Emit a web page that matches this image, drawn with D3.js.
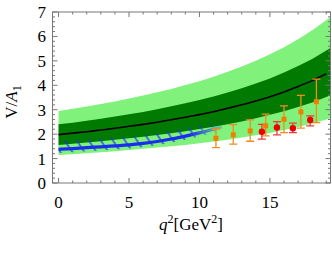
<!DOCTYPE html>
<html><head><meta charset="utf-8">
<script src="https://cdn.jsdelivr.net/npm/d3@7"></script>
<style>body{margin:0;background:#fff}svg{display:block}text{font-family:"Liberation Serif","DejaVu Serif",serif}</style>
</head><body><svg id="c" width="332" height="254"></svg>
<script>
// ---- data ----
const bandQ2   = [0,1,2,3,4,5,6,7,8,9,10,11,12,13,14,15,16,17,18,19,19.3];
const lightHi  = [2.95,3.04,3.13,3.23,3.34,3.46,3.58,3.71,3.85,4.01,4.17,4.35,4.55,4.77,5.00,5.27,5.56,5.88,6.25,6.66,6.80];
const darkHi   = [2.40,2.47,2.55,2.63,2.72,2.81,2.91,3.02,3.14,3.26,3.40,3.54,3.70,3.88,4.07,4.28,4.52,4.79,5.08,5.42,5.53];
const darkLo   = [1.56,1.61,1.66,1.71,1.77,1.83,1.89,1.96,2.04,2.12,2.21,2.30,2.41,2.52,2.65,2.79,2.94,3.11,3.30,3.52,3.59];
const lightLo  = [1.15,1.18,1.22,1.26,1.30,1.35,1.40,1.45,1.50,1.56,1.63,1.70,1.77,1.86,1.95,2.05,2.17,2.29,2.44,2.60,2.65];
const centerQ2 = [0,1,2,3,4,5,6,7,8,9,10,11,12,13,14,15,16,17,18,19];
const center   = [1.98,2.04,2.10,2.17,2.24,2.32,2.40,2.49,2.59,2.69,2.80,2.92,3.06,3.20,3.36,3.53,3.73,3.95,4.19,4.47];
const blueQ2   = [0,1,2,3,4,5,6,7,8,9,10,11,11.6];
const blue     = [1.38,1.41,1.45,1.48,1.52,1.56,1.62,1.70,1.80,1.92,2.05,2.20,2.29];
const blueHi   = [1.71,1.74,1.78,1.81,1.85,1.89,1.95,2.03,2.13,2.25,2.38,2.53,2.62];
const blueLo   = [1.23,1.26,1.30,1.33,1.37,1.41,1.47,1.55,1.65,1.77,1.90,2.05,2.14];
const orangeQ2 = [11.17,12.4,13.6,14.7,16.0,17.2,18.3];
const orangeV  = [1.83,1.97,2.13,2.34,2.61,2.91,3.33];
const orangeHi = [2.21,2.39,2.58,2.82,3.16,3.59,4.25];
const orangeLo = [1.45,1.59,1.71,1.93,2.06,2.25,2.47];
const redQ2    = [14.43,15.5,16.63,17.86];
const redV     = [2.10,2.27,2.24,2.58];
const redHi    = [2.40,2.51,2.45,2.75];
const redLo    = [1.80,1.97,2.06,2.34];
const xTicks   = [0,5,10,15];
const yTicks   = [0,1,2,3,4,5,6,7];

// ---- layout ----
const svg = d3.select("#c");
const L=52.5, R=330.5, T=12, B=183;
const x = d3.scaleLinear().domain([-0.43,19.3]).range([L,R]);
const y = d3.scaleLinear().domain([0,7]).range([B,T]);

const defs = svg.append("defs");
defs.append("clipPath").attr("id","plot").append("rect").attr("x",L).attr("y",T).attr("width",R-L).attr("height",B-T);
const pat = defs.append("pattern").attr("id","hatch").attr("patternUnits","userSpaceOnUse")
  .attr("width",10).attr("height",10).attr("patternTransform","rotate(-34)");
pat.append("line").attr("x1",5).attr("y1",0).attr("x2",5).attr("y2",10).attr("stroke","#2233ee").attr("stroke-width",1.3);
const grad = defs.append("linearGradient").attr("id","fade").attr("gradientUnits","userSpaceOnUse")
  .attr("x1",x(9.3)).attr("x2",x(11.7)).attr("y1",0).attr("y2",0);
grad.append("stop").attr("offset",0).attr("stop-color","#fff").attr("stop-opacity",1);
grad.append("stop").attr("offset",1).attr("stop-color","#fff").attr("stop-opacity",0.15);
defs.append("mask").attr("id","fm").append("rect").attr("x",0).attr("y",0).attr("width",332).attr("height",254).attr("fill","url(#fade)");

const g = svg.append("g").attr("clip-path","url(#plot)");
const area = (hi,lo,qs)=>d3.area().x((d,i)=>x(qs[i])).y0((d,i)=>y(lo[i])).y1((d,i)=>y(hi[i]))(qs);
g.append("path").attr("d",area(lightHi,lightLo,bandQ2)).attr("fill","#80f27c");
g.append("path").attr("d",area(darkHi,darkLo,bandQ2)).attr("fill","#007a00");
g.append("path").attr("d",d3.line().x((d,i)=>x(centerQ2[i])).y((d,i)=>y(center[i])).curve(d3.curveMonotoneX)(centerQ2))
  .attr("fill","none").attr("stroke","#000").attr("stroke-width",1.6);

const bg = g.append("g").attr("mask","url(#fm)");
bg.append("path").attr("d",area(blueHi,blueLo,blueQ2)).attr("fill","url(#hatch)");
bg.append("path").attr("d",d3.line().x((d,i)=>x(blueQ2[i])).y((d,i)=>y(blue[i])).curve(d3.curveMonotoneX)(blueQ2))
  .attr("fill","none").attr("stroke","#1a2cf0").attr("stroke-width",3.2);

// error bars
function errs(qs,v,hi,lo,col,cap){
  const eg = g.append("g").attr("stroke",col).attr("stroke-width",1.3);
  qs.forEach((q,i)=>{
    eg.append("line").attr("x1",x(q)).attr("x2",x(q)).attr("y1",y(hi[i])).attr("y2",y(lo[i]));
    eg.append("line").attr("x1",x(q)-cap).attr("x2",x(q)+cap).attr("y1",y(hi[i])).attr("y2",y(hi[i]));
    eg.append("line").attr("x1",x(q)-cap).attr("x2",x(q)+cap).attr("y1",y(lo[i])).attr("y2",y(lo[i]));
  });
}
errs(orangeQ2,orangeV,orangeHi,orangeLo,"#f28c1e",4);
errs(redQ2,redV,redHi,redLo,"#f03a3a",4);
g.selectAll(".sq").data(orangeQ2).enter().append("rect")
  .attr("x",d=>x(d)-2.5).attr("y",(d,i)=>y(orangeV[i])-2.5).attr("width",5).attr("height",5).attr("fill","#f07f00");
g.selectAll(".ci").data(redQ2).enter().append("circle")
  .attr("cx",d=>x(d)).attr("cy",(d,i)=>y(redV[i])).attr("r",3.2).attr("fill","#ee0000");

// frame and ticks
const ax = svg.append("g").attr("stroke","#777").attr("stroke-width",1).attr("fill","none");
ax.append("rect").attr("x",L).attr("y",T).attr("width",R-L).attr("height",B-T);
const xMinor = d3.range(0,20,1), yMinor = d3.range(0,7.01,0.2);
xMinor.forEach(v=>{
  const len = xTicks.includes(v)?5:2.5;
  ax.append("line").attr("x1",x(v)).attr("x2",x(v)).attr("y1",B).attr("y2",B-len);
  ax.append("line").attr("x1",x(v)).attr("x2",x(v)).attr("y1",T).attr("y2",T+len);
});
yMinor.forEach(v=>{
  const maj = Math.abs(v-Math.round(v))<1e-6;
  const len = maj?5:2.5;
  ax.append("line").attr("x1",L).attr("x2",L+len).attr("y1",y(v)).attr("y2",y(v));
  ax.append("line").attr("x1",R).attr("x2",R-len).attr("y1",y(v)).attr("y2",y(v));
});

svg.selectAll(".xt").data(xTicks).enter().append("text")
  .attr("x",d=>x(d)).attr("y",208).attr("text-anchor","middle").attr("font-size",17).attr("fill","#000").text(d=>d);
svg.selectAll(".yt").data(yTicks).enter().append("text")
  .attr("x",46).attr("y",d=>y(d)+6).attr("text-anchor","end").attr("font-size",17).attr("fill","#000").text(d=>d);

// axis titles
const xl = svg.append("text").attr("x",191).attr("y",230).attr("text-anchor","middle").attr("font-size",17).attr("fill","#000");
xl.append("tspan").attr("font-style","italic").text("q");
xl.append("tspan").attr("dy",-7).attr("font-size",12).text("2");
xl.append("tspan").attr("dy",7).text("[GeV");
xl.append("tspan").attr("dy",-7).attr("font-size",12).text("2");
xl.append("tspan").attr("dy",7).text("]");
const yl = svg.append("text").attr("transform","translate(17,102) rotate(-90)").attr("text-anchor","middle").attr("font-size",17).attr("fill","#000");
yl.append("tspan").text("V/");
yl.append("tspan").attr("font-style","italic").text("A");
yl.append("tspan").attr("dy",4).attr("font-size",12).text("1");
</script></body></html>
